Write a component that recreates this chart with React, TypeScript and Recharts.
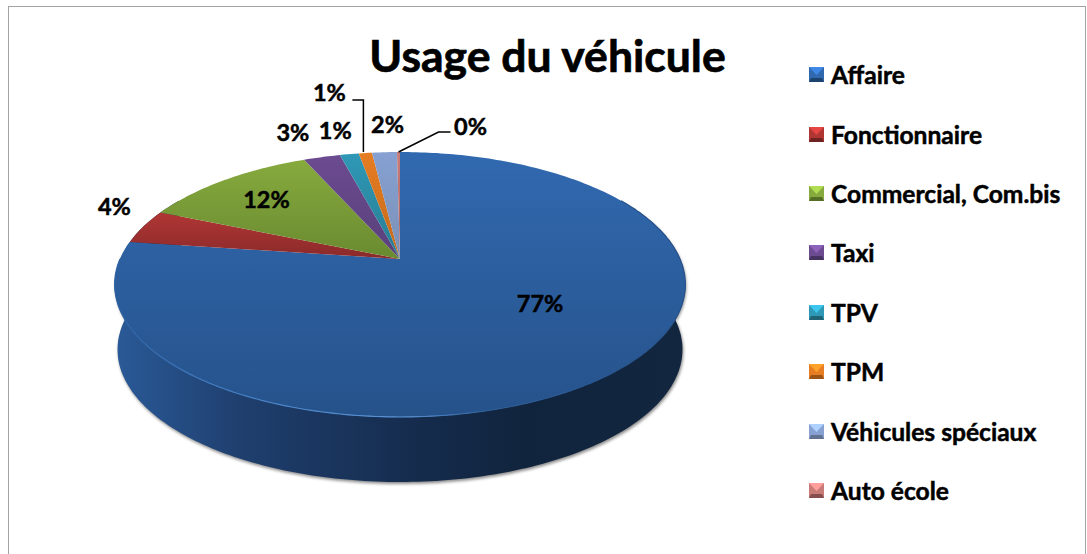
import React from 'react';
import { PieChart, Pie, Legend } from 'recharts';

const categories = ['Affaire', 'Fonctionnaire', 'Commercial, Com.bis', 'Taxi', 'TPV', 'TPM', 'Véhicules spéciaux', 'Auto école'];
const shares = [77.2, 4.2, 12.0, 2.5, 1.3, 0.9, 1.7, 0.2];
const baseColors = ['#3169b0', '#b03634', '#87aa3e', '#6c4b90', '#2f98b6', '#e67d22', '#86a1d2', '#c97b78'];
const darkColors = ['#26528a', '#8a2a2a', '#6a8a30', '#58407a', '#277c92', '#c2691c', '#7a90b6', '#a86362'];

const data = categories.map((name, i) => ({ name, value: shares[i], index: i }));

// label offsets from the rim midpoint of each slice
const labelOffsets = [[-75, -69], [-29, -21], [42, 19], [-29, -25], [-14, -24], [-36, -61], [3, -28], [72, -26]];
const leaders: Record<number, number[][]> = {
  5: [[-13, -53], [-2, -53], [-2, -1]],
  7: [[52, -20], [40, -20], [0, 0]],
};

const FONT = 'Lato, sans-serif';
const TILT = 0.1925; // perspective of the disc
const SQUASH = 0.2775; // vertical scale of the disc
const DEPTH = 65;

// map a point of the flat disc onto the tilted one (theta clockwise from top)
const project = (cx: number, cy: number, r: number, theta: number) => {
  const rad = (theta * Math.PI) / 180;
  const u = Math.sin(rad);
  const v = Math.cos(rad);
  const d = 1 + TILT * v;
  return { x: cx + (r * u) / d, y: (cy - r * SQUASH * v) / d };
};

const arc = (cx: number, cy: number, r: number, from: number, to: number) => {
  const pts = [];
  const steps = Math.max(2, Math.ceil(Math.abs(to - from)));
  for (let i = 0; i <= steps; i++) pts.push(project(cx, cy, r, from + ((to - from) * i) / steps));
  return pts;
};

const toPath = (pts: { x: number; y: number }[]) =>
  pts.map((p, i) => `${i ? 'L' : 'M'}${p.x.toFixed(1)},${p.y.toFixed(1)}`).join(' ');

const TopFace = (props: any) => {
  const { cx, cy, outerRadius, startAngle, endAngle, index } = props;
  const from = 90 - startAngle;
  const to = 90 - endAngle;
  const pts = arc(cx, cy, outerRadius, from, to);
  const rimFrom = Math.max(from, 60);
  const rimTo = Math.min(to, 270);
  return (
    <g>
      <path d={`${toPath(pts)} L${cx},${cy} Z`} fill={`url(#face${index})`} />
      {rimTo > rimFrom && (
        <path d={toPath(arc(cx, cy, outerRadius, rimFrom, rimTo))} fill="none" stroke="url(#rim)" strokeWidth={1.2} />
      )}
    </g>
  );
};

const SideWall = (props: any) => {
  const { cx, cy, outerRadius, startAngle, endAngle } = props;
  const from = Math.max(90 - startAngle, 60);
  const to = Math.min(90 - endAngle, 300);
  if (to <= from) return null;
  const top = arc(cx, cy, outerRadius, from, to);
  const bottom = top
    .map((p) => ({ x: cx + (p.x - cx) * 0.99, y: p.y + DEPTH }))
    .reverse();
  return (
    <path
      d={`${toPath(top)} ${toPath(bottom).replace('M', 'L')} Z`}
      fill="url(#wall)"
      style={{ filter: 'drop-shadow(1px 2px 1.5px rgba(0,0,0,0.45))' }}
    />
  );
};

const renderLabel = (props: any) => {
  const { cx, cy, outerRadius, midAngle, percent, index } = props;
  const rim = project(cx, cy, outerRadius, 90 - midAngle);
  const [dx, dy] = labelOffsets[index];
  const line = leaders[index];
  return (
    <g key={`label-${index}`}>
      {line && (
        <polyline
          points={line.map(([a, b]) => `${rim.x + a},${rim.y + b}`).join(' ')}
          fill="none"
          stroke="#000"
          strokeWidth={1.5}
        />
      )}
      <text
        x={rim.x + dx}
        y={rim.y + dy}
        textAnchor="middle"
        dominantBaseline="central"
        fontFamily={FONT}
        fontWeight={700}
        fontSize={23.5}
        fill="#000"
        stroke="#000"
        strokeWidth={0.5}
      >
        {`${Math.round(percent * 100)}%`}
      </text>
    </g>
  );
};

const LegendIcon = ({ index }: { index: number }) => (
  <svg width={15} height={15} style={{ display: 'block', flex: 'none' }}>
    <rect width={15} height={15} fill={baseColors[index]} />
    <polygon points="0,0 15,0 7.5,8" fill={baseColors[index]} style={{ filter: 'brightness(1.3)' }} />
    <polygon points="0,15 2,11 13,11 15,15" fill={darkColors[index]} style={{ filter: 'brightness(0.8)' }} />
  </svg>
);

const renderLegend = () => (
  <div>
    {categories.map((name, i) => (
      <div key={name} style={{ display: 'flex', alignItems: 'center', height: 59.4, fontFamily: FONT, fontWeight: 700, fontSize: 24.6, color: '#000', whiteSpace: 'nowrap', WebkitTextStroke: '0.5px #000' }}>
        <LegendIcon index={i} />
        <span style={{ marginLeft: 7 }}>{name}</span>
      </div>
    ))}
  </div>
);

export default function App() {
  return (
    <div style={{ position: 'absolute', left: 0, top: 0, width: 1087, height: 554, background: '#fff', overflow: 'hidden' }}>
      <div style={{ position: 'absolute', left: 8, top: 6, width: 1076, height: 560, border: '1.5px solid #a3a3a3' }} />
      <PieChart width={1087} height={554} margin={{ top: 0, right: 0, bottom: 0, left: 0 }} style={{ position: 'absolute', left: 0, top: 0 }}>
        <defs>
          {baseColors.map((c, i) => (
            <linearGradient key={c} id={`face${i}`} x1="0" y1="0" x2="0" y2="1">
              <stop offset="0%" stopColor={c} />
              <stop offset="100%" stopColor={darkColors[i]} />
            </linearGradient>
          ))}
          <linearGradient id="wall" x1="0" y1="0" x2="1" y2="0">
            <stop offset="0%" stopColor="#2a5a98" />
            <stop offset="22%" stopColor="#1f3f6e" />
            <stop offset="52%" stopColor="#152c4e" />
            <stop offset="72%" stopColor="#11243d" />
            <stop offset="100%" stopColor="#13263f" />
          </linearGradient>
          <linearGradient id="rim" x1="0" y1="0" x2="1" y2="0">
            <stop offset="0%" stopColor="#2c60a2" />
            <stop offset="12%" stopColor="#3a74ba" />
            <stop offset="50%" stopColor="#5a94d8" />
            <stop offset="66%" stopColor="#2a5a94" />
            <stop offset="100%" stopColor="#25508a" />
          </linearGradient>
        </defs>
        <Pie
          data={data}
          dataKey="value"
          nameKey="name"
          cx={400}
          cy={259}
          outerRadius={280}
          startAngle={90}
          endAngle={-270}
          stroke="none"
          legendType="none"
          isAnimationActive={false}
          shape={SideWall}
          inactiveShape={SideWall}
        />
        <Pie
          data={data}
          dataKey="value"
          nameKey="name"
          cx={400}
          cy={259}
          outerRadius={280}
          startAngle={90}
          endAngle={-270}
          stroke="none"
          isAnimationActive={false}
          shape={TopFace}
          inactiveShape={TopFace}
          label={renderLabel}
          labelLine={false}
        />
        <text x={547.5} y={72} textAnchor="middle" fontFamily={FONT} fontWeight={700} fontSize={44.5} fill="#000" stroke="#000" strokeWidth={0.7}>
          Usage du véhicule
        </text>
        <Legend content={renderLegend} layout="vertical" wrapperStyle={{ left: 809, top: 45, width: 270 }} />
      </PieChart>
    </div>
  );
}
